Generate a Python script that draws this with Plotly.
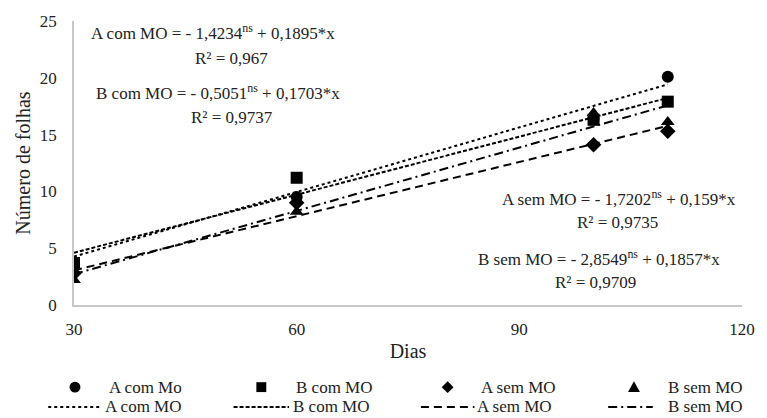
import plotly.graph_objects as go

dias = [30, 60, 100, 110]
a_com = [3.6, 9.5, 16.4, 20.1]
b_com = [3.7, 11.2, 16.3, 17.9]
a_sem = [2.8, 9.0, 14.1, 15.3]
b_sem = [2.2, 8.2, 16.9, 16.1]

names_pts = ["A com Mo", "B com MO", "A sem MO", "B sem MO"]
names_fit = ["A com MO", "B com MO", "A sem MO", "B sem MO"]
intercepts = [-1.4234, -0.5051, -1.7202, -2.8549]
slopes = [0.1895, 0.1703, 0.159, 0.1857]
r2 = ["0,967", "0,9737", "0,9735", "0,9709"]
fit_x = [30, 110]

symbols = ["circle", "square", "diamond", "triangle-up"]
dashes = ["dot", "4px,2px", "8px,5px", "9px,4px,2px,4px"]
FONT = "Liberation Serif"
TXT = "#222"

fig = go.Figure()
for name, ys, sym in zip(names_pts, [a_com, b_com, a_sem, b_sem], symbols):
    fig.add_trace(go.Scatter(x=dias, y=ys, mode="markers", name=name, showlegend=False,
                             marker=dict(symbol=sym, size=12, color="black")))
for name, b0, b1, d in zip(names_fit, intercepts, slopes, dashes):
    fig.add_trace(go.Scatter(x=fit_x, y=[b0 + b1 * x for x in fit_x], mode="lines",
                             name=name, showlegend=False,
                             line=dict(color="black", width=2, dash=d)))

# page pixel -> paper coordinates (plot area: x 74..748, y 18..305)
PL, PR, PT, PB = 74, 748, 18, 305
W, H = 767, 418
def xp(px):
    return (px - PL) / (PR - PL)
def yp(py):
    return 1 - (py - PT) / (PB - PT)

def eq(name, b0, b1):
    s0 = f"{abs(b0):.4f}".rstrip("0").replace(".", ",")
    s1 = f"{b1:.4f}".rstrip("0").replace(".", ",")
    return f"{name} = - {s0}<sup>ns</sup> + {s1}*x"

eq_pos = [(214, 29), (219, 90), (624, 197), (604, 257)]
r2_pos = [(233, 56), (233, 116), (622, 222), (600, 282)]
for (ex, ey), (rx, ry), name, b0, b1, r in zip(eq_pos, r2_pos, names_fit, intercepts, slopes, r2):
    fig.add_annotation(xref="paper", yref="paper", x=xp(ex), y=yp(ey),
                       text=eq(name, b0, b1), showarrow=False, xanchor="center", yanchor="middle",
                       font=dict(size=17, color=TXT, family=FONT))
    fig.add_annotation(xref="paper", yref="paper", x=xp(rx), y=yp(ry),
                       text=f"R² = {r}", showarrow=False, xanchor="center", yanchor="middle",
                       font=dict(size=17, color=TXT, family=FONT))

# manual legend
row1, row2 = 388, 408
mark_x = [75, 263, 451, 639]
text1_x = [107, 296, 483, 671]
line_x = [(48, 102), (235, 291), (424, 478), (613, 658)]
text2_x = [103, 293, 479, 671]
r = 5.5
shapes = []
shapes.append(dict(type="circle", xref="paper", yref="paper",
                   x0=xp(mark_x[0] - r), x1=xp(mark_x[0] + r),
                   y0=yp(row1 + r), y1=yp(row1 - r), fillcolor="black", line=dict(width=0)))
shapes.append(dict(type="rect", xref="paper", yref="paper",
                   x0=xp(mark_x[1] - 5), x1=xp(mark_x[1] + 5),
                   y0=yp(row1 + 5), y1=yp(row1 - 5), fillcolor="black", line=dict(width=0)))
cx = mark_x[2]
shapes.append(dict(type="path", xref="paper", yref="paper",
                   path=f"M{xp(cx-6)},{yp(row1)} L{xp(cx)},{yp(row1-6)} L{xp(cx+6)},{yp(row1)} L{xp(cx)},{yp(row1+6)} Z",
                   fillcolor="black", line=dict(width=0)))
cx = mark_x[3]
shapes.append(dict(type="path", xref="paper", yref="paper",
                   path=f"M{xp(cx-6)},{yp(row1+5)} L{xp(cx)},{yp(row1-6)} L{xp(cx+6)},{yp(row1+5)} Z",
                   fillcolor="black", line=dict(width=0)))
for (x0, x1), d in zip(line_x, dashes):
    shapes.append(dict(type="line", xref="paper", yref="paper", x0=xp(x0), x1=xp(x1),
                       y0=yp(row2), y1=yp(row2), line=dict(color="black", width=2, dash=d)))
for tx, name in zip(text1_x, names_pts):
    fig.add_annotation(xref="paper", yref="paper", x=xp(tx), y=yp(row1), text=name,
                       showarrow=False, xanchor="left", yanchor="middle",
                       font=dict(size=17, color=TXT, family=FONT))
for tx, name in zip(text2_x, names_fit):
    fig.add_annotation(xref="paper", yref="paper", x=xp(tx), y=yp(row2), text=name,
                       showarrow=False, xanchor="left", yanchor="middle",
                       font=dict(size=17, color=TXT, family=FONT))

fig.update_layout(
    width=W, height=H,
    margin=dict(l=PL, r=W - PR, t=PT, b=H - PB),
    paper_bgcolor="white", plot_bgcolor="white",
    font=dict(family=FONT, color=TXT, size=16),
    shapes=shapes,
    showlegend=False,
    xaxis=dict(range=[30, 120], tickvals=[30, 60, 90, 120], showgrid=False, zeroline=False,
               showline=True, linecolor="#c8c8c8", linewidth=1.5, ticks="",
               ticklabelstandoff=8,
               title=dict(text="Dias", font=dict(size=20, family=FONT), standoff=6),
               tickfont=dict(size=17, family=FONT)),
    yaxis=dict(range=[0, 25], tickvals=[0, 5, 10, 15, 20, 25], showgrid=False, zeroline=False,
               showline=True, linecolor="#c8c8c8", linewidth=1.5, ticks="",
               ticklabelstandoff=12,
               title=dict(text="Número de folhas", font=dict(size=20, family=FONT), standoff=4),
               tickfont=dict(size=17, family=FONT)),
)

fig.write_html("out.html", config={"displayModeBar": False},
               post_script="document.body.style.margin='0px';document.body.style.overflow='hidden';")
